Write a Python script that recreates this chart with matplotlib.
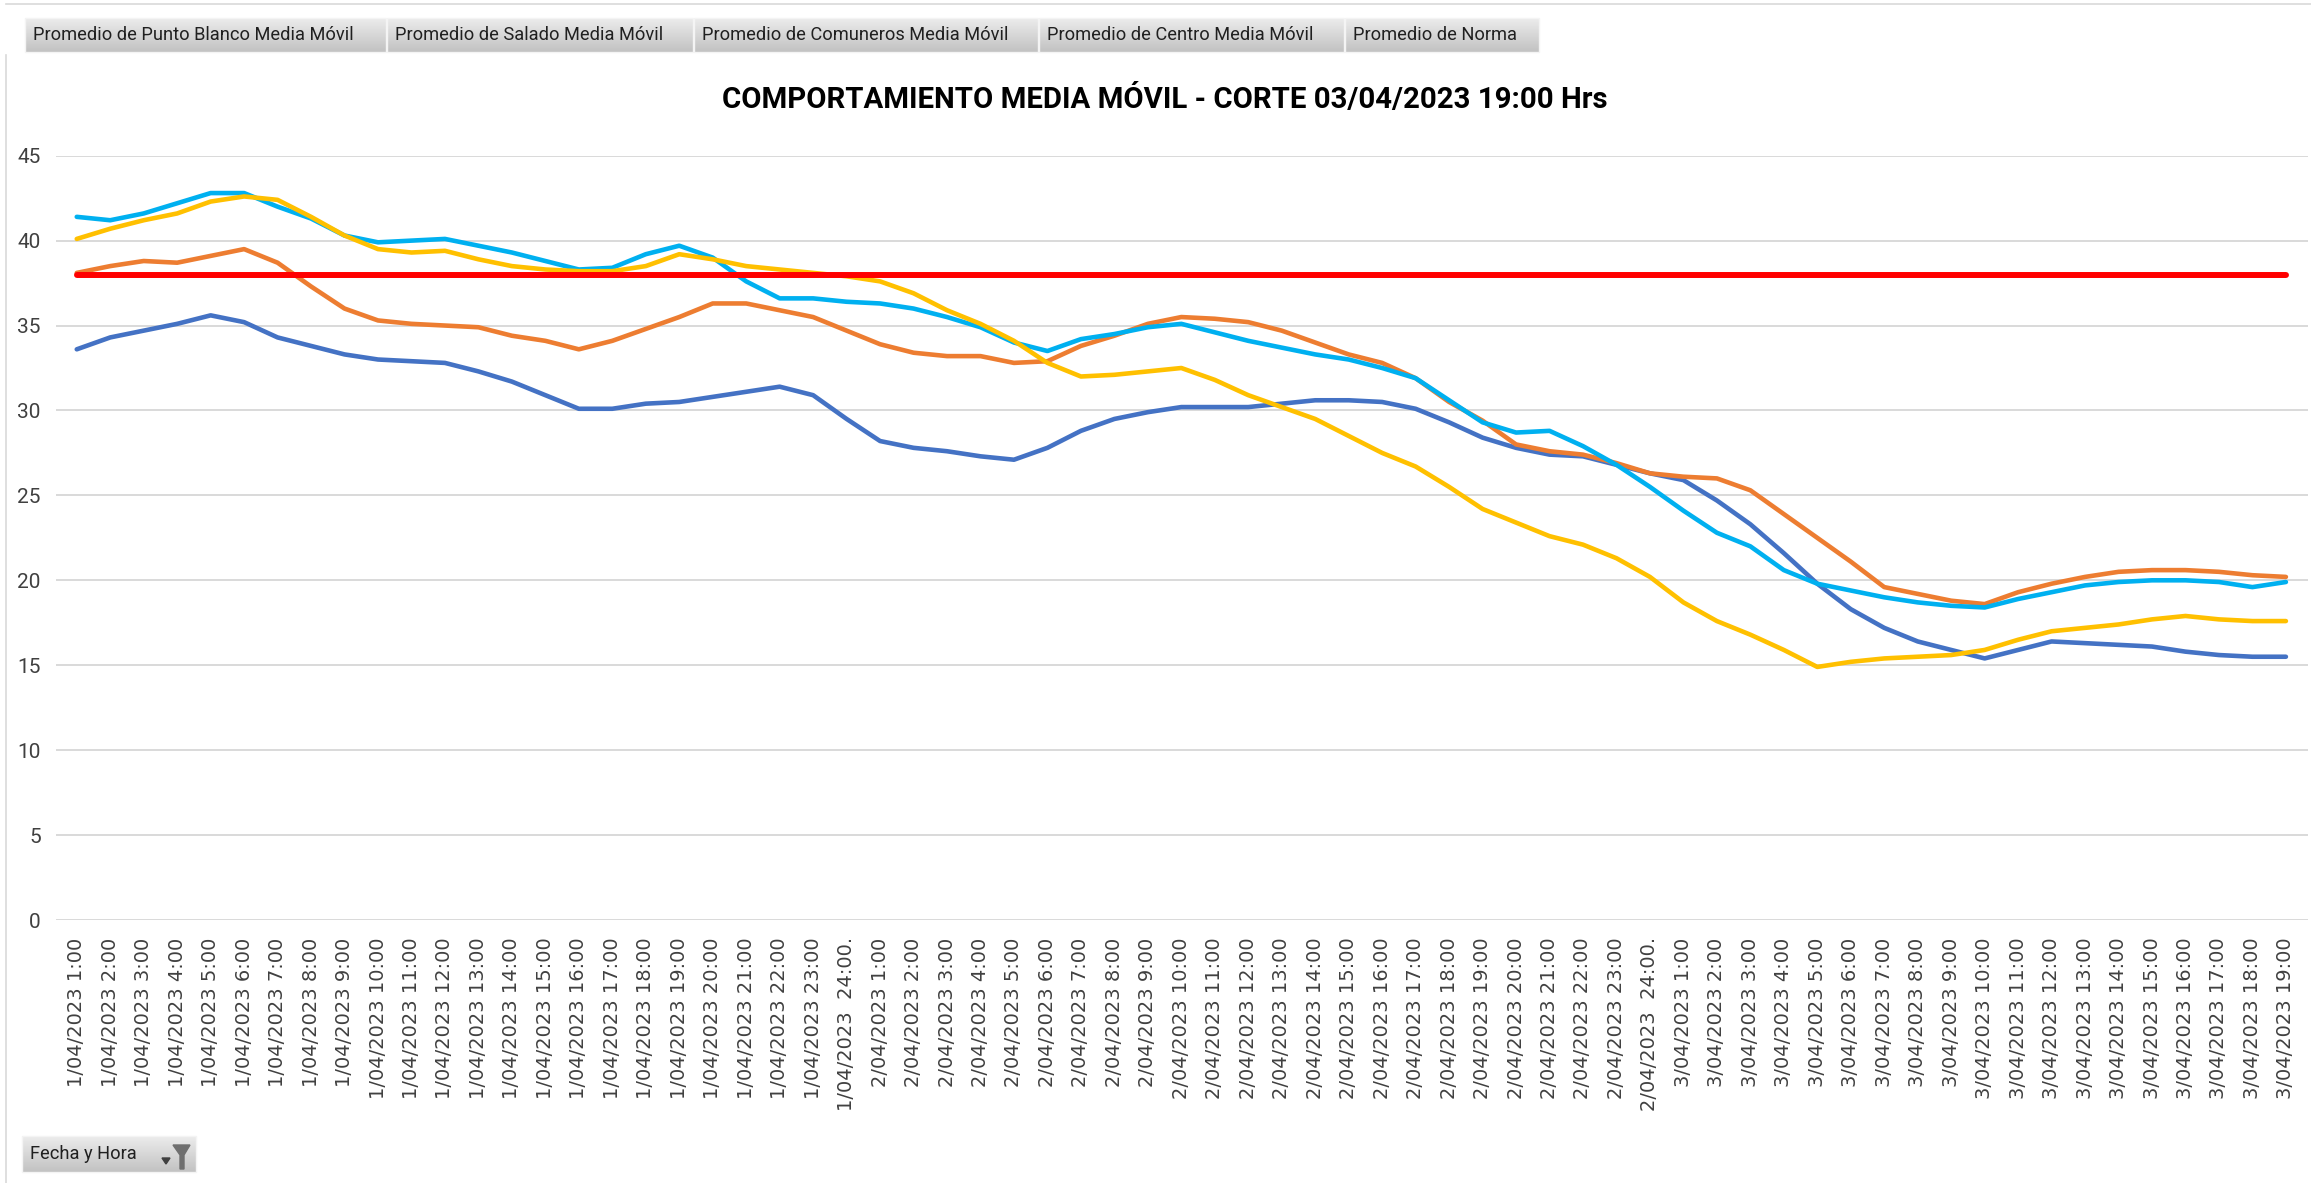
import numpy as np
import matplotlib
matplotlib.use('Agg')
import matplotlib.pyplot as plt
from matplotlib.patches import Rectangle, Polygon
from matplotlib.colors import LinearSegmentedColormap

# datos (media movil por hora)
dias = ['1/04/2023', '2/04/2023', '3/04/2023']
horas_por_dia = [24, 24, 19]

punto_blanco = [33.6, 34.3, 34.7, 35.1, 35.6, 35.2, 34.3, 33.8, 33.3, 33.0,
                32.9, 32.8, 32.3, 31.7, 30.9, 30.1, 30.1, 30.4, 30.5, 30.8,
                31.1, 31.4, 30.9, 29.5, 28.2, 27.8, 27.6, 27.3, 27.1, 27.8,
                28.8, 29.5, 29.9, 30.2, 30.2, 30.2, 30.4, 30.6, 30.6, 30.5,
                30.1, 29.3, 28.4, 27.8, 27.4, 27.3, 26.8, 26.3, 25.9, 24.7,
                23.3, 21.6, 19.8, 18.3, 17.2, 16.4, 15.9, 15.4, 15.9, 16.4,
                16.3, 16.2, 16.1, 15.8, 15.6, 15.5, 15.5]
salado = [38.1, 38.5, 38.8, 38.7, 39.1, 39.5, 38.7, 37.3, 36.0, 35.3,
          35.1, 35.0, 34.9, 34.4, 34.1, 33.6, 34.1, 34.8, 35.5, 36.3,
          36.3, 35.9, 35.5, 34.7, 33.9, 33.4, 33.2, 33.2, 32.8, 32.9,
          33.8, 34.4, 35.1, 35.5, 35.4, 35.2, 34.7, 34.0, 33.3, 32.8,
          31.9, 30.5, 29.4, 28.0, 27.6, 27.4, 26.9, 26.3, 26.1, 26.0,
          25.3, 23.9, 22.5, 21.1, 19.6, 19.2, 18.8, 18.6, 19.3, 19.8,
          20.2, 20.5, 20.6, 20.6, 20.5, 20.3, 20.2]
comuneros = [41.4, 41.2, 41.6, 42.2, 42.8, 42.8, 42.0, 41.3, 40.3, 39.9,
             40.0, 40.1, 39.7, 39.3, 38.8, 38.3, 38.4, 39.2, 39.7, 39.0,
             37.6, 36.6, 36.6, 36.4, 36.3, 36.0, 35.5, 34.9, 34.0, 33.5,
             34.2, 34.5, 34.9, 35.1, 34.6, 34.1, 33.7, 33.3, 33.0, 32.5,
             31.9, 30.6, 29.3, 28.7, 28.8, 27.9, 26.8, 25.5, 24.1, 22.8,
             22.0, 20.6, 19.8, 19.4, 19.0, 18.7, 18.5, 18.4, 18.9, 19.3,
             19.7, 19.9, 20.0, 20.0, 19.9, 19.6, 19.9]
centro = [40.1, 40.7, 41.2, 41.6, 42.3, 42.6, 42.4, 41.4, 40.3, 39.5,
          39.3, 39.4, 38.9, 38.5, 38.3, 38.2, 38.2, 38.5, 39.2, 38.9,
          38.5, 38.3, 38.1, 37.9, 37.6, 36.9, 35.9, 35.1, 34.1, 32.8,
          32.0, 32.1, 32.3, 32.5, 31.8, 30.9, 30.2, 29.5, 28.5, 27.5,
          26.7, 25.5, 24.2, 23.4, 22.6, 22.1, 21.3, 20.2, 18.7, 17.6,
          16.8, 15.9, 14.9, 15.2, 15.4, 15.5, 15.6, 15.9, 16.5, 17.0,
          17.2, 17.4, 17.7, 17.9, 17.7, 17.6, 17.6]
norma = [38] * 67

botones = ['Promedio de Punto Blanco Media Móvil', 'Promedio de Salado Media Móvil',
           'Promedio de Comuneros Media Móvil', 'Promedio de Centro Media Móvil',
           'Promedio de Norma']

etiquetas = []
for d, n in zip(dias, horas_por_dia):
    for h in range(1, n + 1):
        if h == 24:
            etiquetas.append(f'{d}  24:00.')
        else:
            etiquetas.append(f'{d} {h}:00')

W, H = 2311, 1183
narrow = ['Roboto', 'DejaVu Sans']

fig = plt.figure(figsize=(W / 100, H / 100), dpi=100)
ax = fig.add_axes([56 / W, (H - 920) / H, (2308 - 56) / W, (920 - 155.7) / H])

x = np.arange(len(etiquetas))
series = [(punto_blanco, '#4472C4', 3.3), (salado, '#ED7D31', 3.3),
          (comuneros, '#00B0F0', 3.3), (centro, '#FFC000', 3.3),
          (norma, '#FF0000', 4.3)]
for vals, col, lw in series:
    ax.plot(x, vals, color=col, lw=lw, solid_capstyle='round', solid_joinstyle='round')

ax.set_xlim(-0.62, 66.66)
ax.set_ylim(0, 45)
ax.set_yticks(range(0, 50, 5))
ax.grid(axis='y', color='#d9d9d9', lw=1.4)
ax.set_axisbelow(True)
for s in ax.spines.values():
    s.set_visible(False)
ax.set_xticks(x)
ax.set_xticklabels(etiquetas, rotation=90, fontsize=14, color='#404040')
ax.tick_params(axis='x', length=0, pad=12.5)
ax.tick_params(axis='y', length=0, pad=11, labelsize=15, labelcolor='#404040')
for t in ax.get_yticklabels():
    t.set_family(narrow)

renderer = fig.canvas.get_renderer()


def ajustar(txt, ancho):
    # escala la fuente para que el texto ocupe el ancho en pixeles
    w = txt.get_window_extent(renderer).width
    txt.set_fontsize(txt.get_fontsize() * ancho / w)


titulo = fig.text(1165 / W, 1 - 100 / H, 'COMPORTAMIENTO MEDIA MÓVIL - CORTE 03/04/2023 19:00 Hrs',
                  ha='center', va='center', fontsize=21, fontweight='bold', family=narrow,
                  color='#000000')
ajustar(titulo, 887)

# capa para botones de campos de la tabla dinamica
bg = fig.add_axes([0, 0, 1, 1], zorder=5)
bg.set_xlim(0, W)
bg.set_ylim(H, 0)
bg.axis('off')
bg.patch.set_visible(False)
grad = np.linspace(0, 1, 50).reshape(-1, 1)
cm = LinearSegmentedColormap.from_list('btn', ['#ececec', '#c2c2c2'])


def boton(x0, x1, y0, y1, texto, size):
    bg.imshow(grad, extent=(x0, x1, y1, y0), origin='upper', cmap=cm, aspect='auto')
    bg.add_patch(Rectangle((x0, y0), x1 - x0, y1 - y0, fill=False, ec='#f4f4f4', lw=1))
    return bg.text(x0 + 8, (y0 + y1) / 2, texto, ha='left', va='center', fontsize=size,
                   family=narrow, color='#202020')


bordes = [25, 387, 694, 1039, 1345, 1540]
t0 = boton(bordes[0], bordes[1] - 1, 18, 52, botones[0], 13)
ajustar(t0, 318)
size_btn = t0.get_fontsize()
for i in range(1, len(botones)):
    boton(bordes[i], bordes[i + 1] - 1, 18, 52, botones[i], size_btn)

boton(22, 196, 1136, 1172, 'Fecha y Hora', size_btn)
bg.add_patch(Polygon([(162, 1158), (170, 1158), (166, 1164)], color='#404040'))
bg.add_patch(Polygon([(173, 1145), (190, 1145), (184, 1155), (184, 1169),
                      (180, 1169), (180, 1155)], color='#6f6f6f'))

bg.plot([6, 6], [55, H], color='#d9d9d9', lw=1.2)
bg.plot([6, W], [4, 4], color='#d9d9d9', lw=1.2)
bg.set_xlim(0, W)
bg.set_ylim(H, 0)

fig.savefig('out.png', dpi=100, facecolor='white')
